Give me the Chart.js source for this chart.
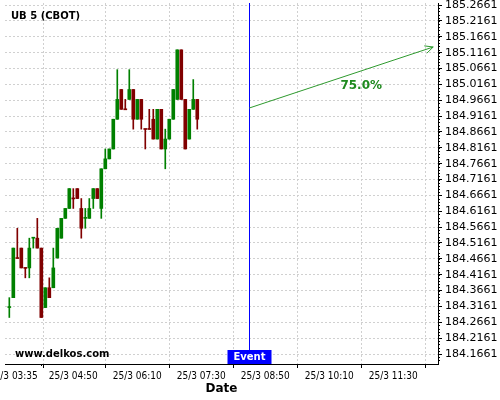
<!DOCTYPE html>
<html lang="en">
<head>
  <meta charset="UTF-8" />
  <title>UB 5 (CBOT)</title>
  <script src="https://cdn.jsdelivr.net/npm/chart.js"></script>
  <style>
    html, body { margin: 0; padding: 0; background: #fff; }
  </style>
</head>
<body>
<canvas id="chart" width="500" height="400"></canvas>

<script>
// 5-minute candles, 25/3
const candleTimes = [
  '03:30','03:35','03:40','03:45','03:50','03:55',
  '04:00','04:05','04:10','04:15','04:20','04:25','04:30','04:35','04:40','04:45','04:50','04:55',
  '05:00','05:05','05:10','05:15','05:20','05:25','05:30','05:35','05:40','05:45','05:50','05:55',
  '06:00','06:05','06:10','06:15','06:20','06:25','06:30','06:35','06:40','06:45','06:50','06:55',
  '07:00','07:05','07:10','07:15','07:20','07:25'
];
const opens = [
  184.3125, 184.34375, 184.46875, 184.5, 184.4375, 184.4375,
  184.53125, 184.53125, 184.5, 184.3125, 184.375, 184.375,
  184.46875, 184.53125, 184.59375, 184.625, 184.65625, 184.6875,
  184.625, 184.59375, 184.59375, 184.65625, 184.6875, 184.625,
  184.75, 184.78125, 184.8125, 184.90625, 185.0, 184.9375,
  184.96875, 185.0, 184.90625, 184.96875, 184.875, 184.875,
  184.90625, 184.84375, 184.9375, 184.8125, 184.84375, 184.90625,
  184.96875, 185.125, 184.96875, 184.84375, 184.9375, 184.96875
];
const highs = [
  184.34375, 184.5, 184.5625, 184.5, 184.4375, 184.53125,
  184.53125, 184.59375, 184.5, 184.375, 184.40625, 184.5,
  184.5625, 184.59375, 184.625, 184.6875, 184.6875, 184.6875,
  184.65625, 184.625, 184.65625, 184.6875, 184.6875, 184.75,
  184.8125, 184.8125, 184.90625, 185.0625, 185.0, 184.96875,
  185.0625, 185.0, 184.96875, 184.96875, 184.875, 184.9375,
  184.9375, 184.9375, 184.9375, 184.875, 184.90625, 185.0,
  185.125, 185.125, 184.96875, 184.9375, 185.03125, 184.96875
];
const lows = [
  184.28125, 184.34375, 184.46875, 184.4375, 184.40625, 184.40625,
  184.5, 184.5, 184.28125, 184.3125, 184.34375, 184.375,
  184.46875, 184.53125, 184.59375, 184.625, 184.625, 184.65625,
  184.53125, 184.5625, 184.59375, 184.625, 184.65625, 184.59375,
  184.75, 184.78125, 184.8125, 184.90625, 184.9375, 184.9375,
  184.96875, 184.875, 184.90625, 184.875, 184.8125, 184.875,
  184.84375, 184.84375, 184.8125, 184.75, 184.84375, 184.90625,
  184.96875, 184.96875, 184.8125, 184.84375, 184.9375, 184.875
];
const closes = [
  184.3125, 184.5, 184.467, 184.4375, 184.436, 184.5,
  184.53125, 184.5, 184.28125, 184.375, 184.34375, 184.4375,
  184.5625, 184.59375, 184.625, 184.6875, 184.655, 184.65625,
  184.5625, 184.59375, 184.625, 184.6875, 184.65625, 184.75,
  184.78125, 184.8125, 184.90625, 184.96875, 184.9375, 184.936,
  185.0, 184.90625, 184.96875, 184.90625, 184.874, 184.874,
  184.84375, 184.9375, 184.8125, 184.84375, 184.90625, 185.0,
  185.125, 184.96875, 184.8125, 184.9375, 184.96875, 184.90625
];

const xTickLabels = ['25/3 03:35', '25/3 04:50', '25/3 06:10', '25/3 07:30', '25/3 08:50', '25/3 10:10', '25/3 11:30'];
const xMinorTicks = ['04:10', '05:30', '06:50', '08:10', '09:30', '10:50', '12:10'];
const yTickValues = [
  184.1661, 184.2161, 184.2661, 184.3161, 184.3661, 184.4161, 184.4661, 184.5161,
  184.5661, 184.6161, 184.6661, 184.7161, 184.7661, 184.8161, 184.8661, 184.9161,
  184.9661, 185.0161, 185.0661, 185.1161, 185.1661, 185.2161, 185.2661
];

// event + forecast arrow
const eventTime = '08:30';
const arrowFrom = { time: '08:30', price: 184.9416 };
const arrowTo = { time: '12:20', price: 185.1339 };
const arrowLabel = { text: '75.0%', time: '10:50', price: 185.0126 };

function toMin(hhmm) {
  const p = hhmm.split(':');
  return Number(p[0]) * 60 + Number(p[1]);
}

const UP = '#008000';
const DOWN = '#800000';
const GRID = '#d0d0d0';
const xs = candleTimes.map(toMin);
const colors = closes.map((c, i) => c >= opens[i] ? UP : DOWN);
const bodies = xs.map((x, i) => ({ x: x, y: [opens[i], closes[i]] }));
const wicks = xs.map((x, i) => ({ x: x, y: [lows[i], highs[i]] }));
const xTickTimes = xTickLabels.map(l => toMin(l.split(' ')[1]));

Chart.defaults.font.family = "'DejaVu Sans'";

// text, event marker, arrow and minor ticks
const overlay = {
  id: 'overlay',
  afterDatasetsDraw(chart) {
    const { ctx, chartArea, scales: { x, y } } = chart;
    ctx.save();

    // minor ticks on the axes
    ctx.strokeStyle = '#000';
    ctx.lineWidth = 1;
    ctx.beginPath();
    for (let v = 184.1461; v < y.max; v += 0.01) {
      if (v < y.min) continue;
      const py = Math.round(y.getPixelForValue(v)) + 0.5;
      ctx.moveTo(chartArea.right, py);
      ctx.lineTo(chartArea.right + 2, py);
    }
    xMinorTicks.forEach(t => {
      const px = Math.round(x.getPixelForValue(toMin(t))) + 0.5;
      ctx.moveTo(px, chartArea.bottom);
      ctx.lineTo(px, chartArea.bottom + 2);
    });
    ctx.stroke();

    // event line + box
    const ex = Math.round(x.getPixelForValue(toMin(eventTime))) + 0.5;
    ctx.strokeStyle = '#0000ff';
    ctx.beginPath();
    ctx.moveTo(ex, chartArea.top);
    ctx.lineTo(ex, chartArea.bottom - 14);
    ctx.stroke();
    ctx.fillStyle = '#0000ff';
    ctx.fillRect(ex - 22, chartArea.bottom - 14, 44, 14);
    ctx.fillStyle = '#fff';
    ctx.font = "bold 10px 'DejaVu Sans'";
    ctx.textAlign = 'center';
    ctx.textBaseline = 'middle';
    ctx.fillText('Event', ex, chartArea.bottom - 7);

    // forecast arrow
    const x1 = x.getPixelForValue(toMin(arrowFrom.time));
    const y1 = y.getPixelForValue(arrowFrom.price);
    const x2 = x.getPixelForValue(toMin(arrowTo.time));
    const y2 = y.getPixelForValue(arrowTo.price);
    const ang = Math.atan2(y2 - y1, x2 - x1);
    ctx.strokeStyle = '#2e9a2e';
    ctx.beginPath();
    ctx.moveTo(x1, y1);
    ctx.lineTo(x2, y2);
    ctx.moveTo(x2 - 9 * Math.cos(ang - 0.45), y2 - 9 * Math.sin(ang - 0.45));
    ctx.lineTo(x2, y2);
    ctx.lineTo(x2 - 9 * Math.cos(ang + 0.45), y2 - 9 * Math.sin(ang + 0.45));
    ctx.stroke();
    ctx.fillStyle = '#1f8a1f';
    ctx.font = "bold 12px 'DejaVu Sans'";
    ctx.fillText(arrowLabel.text, x.getPixelForValue(toMin(arrowLabel.time)), y.getPixelForValue(arrowLabel.price));

    // titles
    ctx.fillStyle = '#000';
    ctx.textAlign = 'left';
    ctx.font = "bold 10px 'DejaVu Sans'";
    ctx.fillText('UB 5 (CBOT)', 11, 16);
    ctx.fillText('www.delkos.com', 15, 354);
    ctx.restore();
  }
};

new Chart(document.getElementById('chart'), {
  type: 'bar',
  data: {
    datasets: [
      { label: 'range', data: wicks, backgroundColor: colors, barThickness: 1, grouped: false, order: 2 },
      { label: 'body', data: bodies, backgroundColor: colors, barThickness: 3, minBarLength: 1, grouped: false, order: 1 }
    ]
  },
  options: {
    responsive: false,
    animation: false,
    layout: { padding: { left: 5, top: 3, right: 0, bottom: 0 } },
    plugins: { legend: { display: false }, tooltip: { enabled: false } },
    scales: {
      x: {
        type: 'linear',
        min: 204.6,
        max: 746,
        offset: false,
        afterBuildTicks: s => { s.ticks = xTickTimes.map(v => ({ value: v })); },
        afterFit: s => { s.height = 36; s.paddingLeft = 0; s.paddingRight = 0; },
        ticks: {
          autoSkip: false, maxRotation: 0, padding: 2, color: '#000',
          font: { family: "'DejaVu Sans Condensed', 'DejaVu Sans'", size: 10 },
          callback: (v, i) => xTickLabels[i]
        },
        grid: { color: GRID, tickColor: '#000', tickLength: 4 },
        border: { color: '#000', width: 1, dash: [2, 2] },
        title: {
          display: true, text: 'Date', color: '#000',
          font: { size: 12, weight: 'bold' }, padding: { top: 0, bottom: 4 }
        }
      },
      y: {
        position: 'right',
        min: 184.1346,
        max: 185.2727,
        afterBuildTicks: s => { s.ticks = yTickValues.map(v => ({ value: v })); },
        afterFit: s => { s.width = 62; s.paddingTop = 0; s.paddingBottom = 0; },
        ticks: { color: '#000', padding: 3, font: { size: 11 }, callback: v => v.toFixed(4) },
        grid: { color: GRID, tickColor: '#000', tickLength: 4 },
        border: { color: '#000', width: 1, dash: [2, 2] }
      }
    }
  },
  plugins: [overlay]
});
</script>
</body>
</html>
